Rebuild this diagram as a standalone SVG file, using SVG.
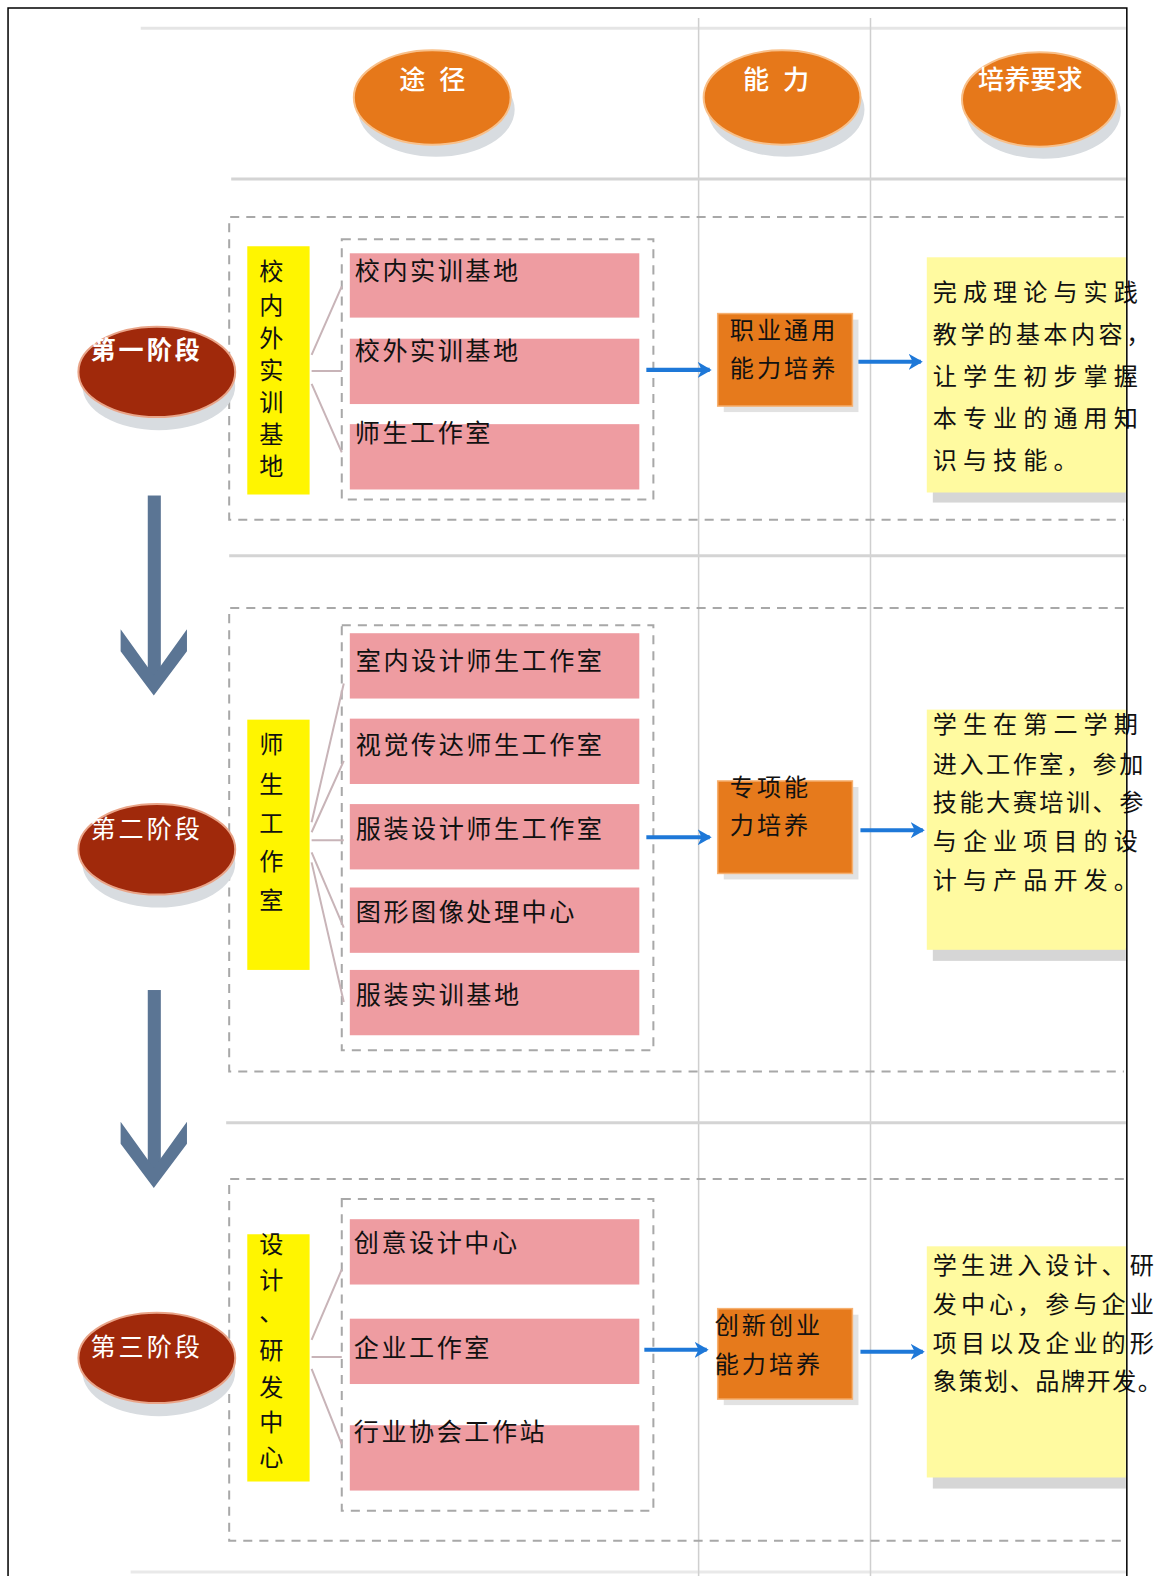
<svg xmlns="http://www.w3.org/2000/svg" width="1161" height="1576" viewBox="0 0 1161 1576">
<style>
text{font-family:"Noto Sans CJK SC","Noto Sans CJK JP",sans-serif;}
.hd{fill:#fff;font-size:26px;font-weight:500;text-anchor:middle;}
.stg{fill:#fff;font-size:25px;letter-spacing:3px;}
.pk{fill:#111;font-size:25px;letter-spacing:2.5px;}
.vt{fill:#111;font-size:24px;text-anchor:middle;}
.ob{fill:#111;font-size:24px;letter-spacing:3px;}
.nt{fill:#111;font-size:24px;letter-spacing:6px;}
.nt3{fill:#111;font-size:24px;letter-spacing:4px;}
.pink{fill:#EE9CA1;}
.bar{fill:#FFF500;}
.orange{fill:#E67A1C;stroke:#F6B070;stroke-width:1.5;}
.note{fill:#FFFAA0;}
.nshadow{fill:#D6D6D6;}
.dash{fill:none;stroke:#A8A8A8;stroke-width:2;stroke-dasharray:9 7;}
.fan{stroke:#C8B4B8;stroke-width:2;fill:none;}
.grid{stroke:#CFCFCF;stroke-width:1.5;}
.hline{stroke:#D4D4D4;stroke-width:3;}
.blue{stroke:#1E78D8;stroke-width:4;fill:none;marker-end:url(#bh);}
.down{fill:#5B7594;}
.eshadow{fill:#D8DCE0;}
.hell{fill:#E6781A;stroke:#F8C08A;stroke-width:2;}
.sell{fill:#A0290B;stroke:#E9A488;stroke-width:2;}
</style>
<defs>
<marker id="bh" viewBox="0 0 14 16" refX="12" refY="8" markerWidth="14" markerHeight="16" markerUnits="userSpaceOnUse" orient="auto">
<path d="M0,0 L14,8 L0,16 L4,8 Z" fill="#1E78D8"/>
</marker>
</defs>
<rect width="1161" height="1576" fill="#fff"/>
<g transform="scale(1.0052,1.0051)">
<g id="background">
<line class="grid" x1="695" y1="18" x2="695" y2="1568"/>
<line class="grid" x1="866" y1="18" x2="866" y2="1568"/>
<line class="hline" x1="140" y1="28" x2="1120" y2="28" stroke-opacity="0.6"/>
<line class="hline" x1="230" y1="178" x2="1120" y2="178"/>
<line class="hline" x1="228" y1="553" x2="1120" y2="553"/>
<line class="hline" x1="225" y1="1117" x2="1120" y2="1117"/>
<line class="hline" x1="130" y1="1564" x2="1120" y2="1564" stroke-opacity="0.5"/>
<path class="dash" d="M1118,216 H228 V517 H1118"/>
<path class="dash" d="M1118,605 H228 V1066 H1118"/>
<path class="dash" d="M1118,1173 H228 V1533 H1118"/>
<rect class="dash" x="340" y="238" width="310" height="259"/>
<rect class="dash" x="340" y="622" width="310" height="423"/>
<rect class="dash" x="340" y="1193" width="310" height="310"/>
</g>
<g id="header-path">
<ellipse class="eshadow" cx="434" cy="109" rx="78" ry="47"/>
<ellipse class="hell" cx="430" cy="97" rx="78" ry="47"/>
<text class="hd" x="432" y="89" style="letter-spacing:4px">途 径</text>
</g>
<g id="header-ability">
<ellipse class="eshadow" cx="782" cy="109" rx="78" ry="47"/>
<ellipse class="hell" cx="778" cy="97" rx="78" ry="47"/>
<text class="hd" x="774" y="89" style="letter-spacing:4px">能 力</text>
</g>
<g id="header-req">
<ellipse class="eshadow" cx="1038" cy="111" rx="77" ry="47"/>
<ellipse class="hell" cx="1034" cy="99" rx="77" ry="47"/>
<text class="hd" x="1025" y="89">培养要求</text>
</g>
<g id="connectors">
<path class="fan" d="M310,353 L340,285 M310,369 L340,369 M310,382 L340,450"/>
<path class="fan" d="M310,818 L342,680 M310,828 L342,757 M310,836 L342,836 M310,848 L342,923 M310,858 L342,997"/>
<path class="fan" d="M310,1333 L340,1263 M310,1350 L340,1350 M310,1362 L340,1437"/>
<line class="blue" x1="643" y1="368" x2="706" y2="368"/>
<line class="blue" x1="853" y1="360" x2="916" y2="360"/>
<line class="blue" x1="643" y1="833" x2="706" y2="833"/>
<line class="blue" x1="856" y1="826" x2="918" y2="826"/>
<line class="blue" x1="641" y1="1343" x2="703" y2="1343"/>
<line class="blue" x1="856" y1="1345" x2="918" y2="1345"/>
<g id="down-arrow-1">
<rect class="down" x="147" y="493" width="13" height="185"/>
<polygon class="down" points="120,626 153,672 186,626 186,648 153,692 120,648"/>
</g>
<g id="down-arrow-2">
<rect class="down" x="147" y="985" width="13" height="180"/>
<polygon class="down" points="120,1116 153,1162 186,1116 186,1138 153,1182 120,1138"/>
</g>
</g>
<g id="stage1">
<ellipse class="eshadow" cx="158" cy="384" rx="76" ry="44"/>
<ellipse class="sell" cx="156" cy="370" rx="78" ry="45"/>
<text class="stg" x="90" y="357" font-weight="bold">第一阶段</text>
</g>
<g id="bar1">
<rect class="bar" x="246" y="245" width="62" height="247"/>
<text class="vt" x="270"><tspan x="270" y="279">校</tspan><tspan x="270" y="312">内</tspan><tspan x="270" y="345">外</tspan><tspan x="270" y="377">实</tspan><tspan x="270" y="409">训</tspan><tspan x="270" y="441">基</tspan><tspan x="270" y="473">地</tspan></text>
</g>
<g id="p1a"><rect class="pink" x="348" y="252" width="288" height="64"/><text class="pk" x="353" y="279">校内实训基地</text></g>
<g id="p1b"><rect class="pink" x="348" y="337" width="288" height="65"/><text class="pk" x="353" y="358">校外实训基地</text></g>
<g id="p1c"><rect class="pink" x="348" y="422" width="288" height="65"/><text class="pk" x="353" y="440">师生工作室</text></g>
<g id="ability1">
<rect x="720" y="318" width="134" height="92" fill="#E2E2E2"/>
<rect class="orange" x="714" y="312" width="134" height="92"/>
<text class="ob" x="726" y="337">职业通用</text>
<text class="ob" x="726" y="375">能力培养</text>
</g>
<g id="req1">
<rect class="nshadow" x="928" y="488" width="192" height="12"/>
<rect class="note" x="922" y="256" width="198" height="234"/>
<text class="nt" x="928" y="299">完成理论与实践</text>
<text class="nt" x="928" y="341" style="letter-spacing:3.5px">教学的基本内容，</text>
<text class="nt" x="928" y="383">让学生初步掌握</text>
<text class="nt" x="928" y="425">本专业的通用知</text>
<text class="nt" x="928" y="467">识与技能。</text>
</g>
<g id="stage2">
<ellipse class="eshadow" cx="158" cy="859" rx="76" ry="44"/>
<ellipse class="sell" cx="156" cy="845" rx="78" ry="45"/>
<text class="stg" x="90" y="834">第二阶段</text>
</g>
<g id="bar2">
<rect class="bar" x="246" y="716" width="62" height="249"/>
<text class="vt" x="270"><tspan x="270" y="749">师</tspan><tspan x="270" y="789">生</tspan><tspan x="270" y="828">工</tspan><tspan x="270" y="866">作</tspan><tspan x="270" y="904">室</tspan></text>
</g>
<g id="p2a"><rect class="pink" x="348" y="630" width="288" height="65"/><text class="pk" x="354" y="667">室内设计师生工作室</text></g>
<g id="p2b"><rect class="pink" x="348" y="715" width="288" height="65"/><text class="pk" x="354" y="750">视觉传达师生工作室</text></g>
<g id="p2c"><rect class="pink" x="348" y="800" width="288" height="65"/><text class="pk" x="354" y="834">服装设计师生工作室</text></g>
<g id="p2d"><rect class="pink" x="348" y="883" width="288" height="65"/><text class="pk" x="354" y="916">图形图像处理中心</text></g>
<g id="p2e"><rect class="pink" x="348" y="965" width="288" height="65"/><text class="pk" x="354" y="999">服装实训基地</text></g>
<g id="ability2">
<rect x="720" y="783" width="134" height="92" fill="#E2E2E2"/>
<rect class="orange" x="714" y="777" width="134" height="92"/>
<text class="ob" x="726" y="792">专项能</text>
<text class="ob" x="726" y="830">力培养</text>
</g>
<g id="req2">
<rect class="nshadow" x="928" y="943" width="192" height="13"/>
<rect class="note" x="922" y="706" width="198" height="239"/>
<text class="nt" x="928" y="729">学生在第二学期</text>
<text class="nt" x="928" y="769" style="letter-spacing:2.5px">进入工作室，参加</text>
<text class="nt" x="928" y="807" style="letter-spacing:2.5px">技能大赛培训、参</text>
<text class="nt" x="928" y="846">与企业项目的设</text>
<text class="nt" x="928" y="884">计与产品开发。</text>
</g>
<g id="stage3">
<ellipse class="eshadow" cx="158" cy="1365" rx="76" ry="44"/>
<ellipse class="sell" cx="156" cy="1351" rx="78" ry="45"/>
<text class="stg" x="90" y="1349">第三阶段</text>
</g>
<g id="bar3">
<rect class="bar" x="246" y="1228" width="62" height="246"/>
<text class="vt" x="270"><tspan x="270" y="1247">设</tspan><tspan x="270" y="1282">计</tspan><tspan x="270" y="1314">、</tspan><tspan x="270" y="1352">研</tspan><tspan x="270" y="1389">发</tspan><tspan x="270" y="1424">中</tspan><tspan x="270" y="1459">心</tspan></text>
</g>
<g id="p3a"><rect class="pink" x="348" y="1213" width="288" height="65"/><text class="pk" x="352" y="1246">创意设计中心</text></g>
<g id="p3b"><rect class="pink" x="348" y="1312" width="288" height="65"/><text class="pk" x="352" y="1350">企业工作室</text></g>
<g id="p3c"><rect class="pink" x="348" y="1418" width="288" height="65"/><text class="pk" x="352" y="1434">行业协会工作站</text></g>
<g id="ability3">
<rect x="720" y="1308" width="134" height="90" fill="#E2E2E2"/>
<rect class="orange" x="714" y="1302" width="134" height="90"/>
<text class="ob" x="711" y="1327">创新创业</text>
<text class="ob" x="711" y="1366">能力培养</text>
</g>
<g id="req3">
<rect class="nshadow" x="928" y="1468" width="192" height="13"/>
<rect class="note" x="922" y="1240" width="198" height="230"/>
<text class="nt3" x="928" y="1268">学生进入设计、研</text>
<text class="nt3" x="928" y="1306">发中心，参与企业</text>
<text class="nt3" x="928" y="1345">项目以及企业的形</text>
<text class="nt3" x="928" y="1383" style="letter-spacing:1.5px">象策划、品牌开发。</text>
</g>
<g id="frame" fill="none" stroke="#000" stroke-width="1.5">
<path d="M8,1570 V8 H1121 V1570"/>
</g>
</g>
</svg>
